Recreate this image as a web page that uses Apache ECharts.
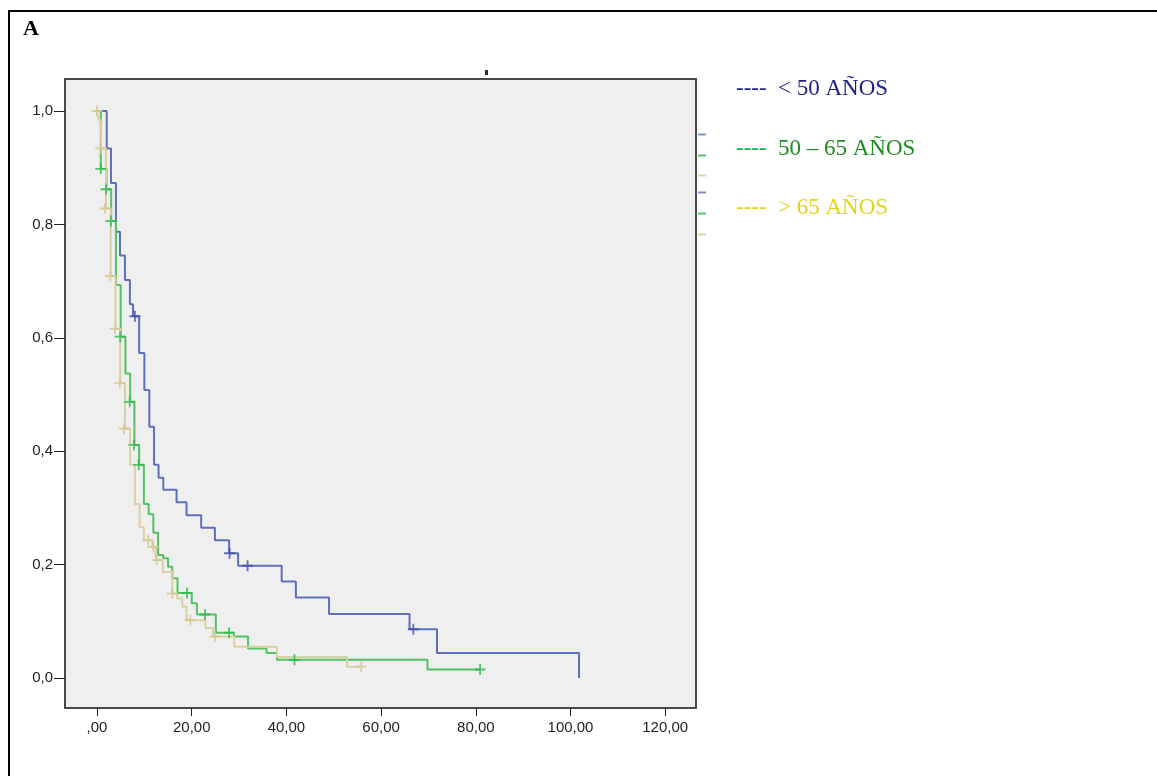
<!DOCTYPE html>
<html>
<head>
<meta charset="utf-8">
<title>Supervivencia por grupo de edad</title>
<script src="https://cdn.jsdelivr.net/npm/echarts@6/dist/echarts.min.js"></script>
<style>
  html, body { margin: 0; padding: 0; background: #ffffff; }
  #chart { width: 1157px; height: 776px; }
</style>
</head>
<body>
<div id="chart"></div>
<script>
// Kaplan-Meier step curves: event times (months) and survival proportion after each step
const groupNames = ['< 50 AÑOS', '50 – 65 AÑOS', '> 65 AÑOS'];

const youngTimes = [0, 2.05, 2.95, 4.0, 4.85, 5.9, 6.95, 7.6, 8.9, 10.0, 11.05, 12.05, 13.0, 14.0, 16.8, 18.9, 22.0, 24.9, 27.9, 29.8, 39.0, 42.0, 49.0, 66.0, 71.8, 101.8];
const youngSurv  = [1, 0.934, 0.873, 0.787, 0.745, 0.702, 0.659, 0.638, 0.573, 0.508, 0.443, 0.376, 0.353, 0.332, 0.310, 0.287, 0.265, 0.243, 0.220, 0.198, 0.170, 0.142, 0.113, 0.086, 0.044, 0];
const youngCensTimes = [8.0, 28.0, 31.8, 66.8];
const youngCensSurv  = [0.638, 0.220, 0.198, 0.086];

const midTimes = [0, 0.8, 2.0, 3.0, 4.0, 5.0, 6.0, 7.0, 7.9, 8.9, 9.9, 10.9, 11.9, 12.9, 14.0, 15.0, 15.9, 17.0, 20.0, 21.1, 25.1, 28.9, 31.9, 35.8, 38.0, 69.8, 80.9];
const midSurv  = [1, 0.898, 0.862, 0.806, 0.693, 0.602, 0.537, 0.487, 0.411, 0.376, 0.307, 0.289, 0.256, 0.217, 0.211, 0.196, 0.176, 0.150, 0.132, 0.112, 0.080, 0.073, 0.052, 0.044, 0.032, 0.015, 0.015];
const midCensTimes = [0.8, 1.9, 2.95, 4.9, 6.9, 7.8, 8.8, 19.0, 22.8, 27.9, 41.7, 80.9];
const midCensSurv  = [0.898, 0.862, 0.806, 0.602, 0.487, 0.411, 0.376, 0.150, 0.112, 0.080, 0.032, 0.015];

const oldTimes = [0, 0.3, 0.8, 1.9, 2.9, 3.9, 4.9, 5.9, 7.0, 8.0, 9.0, 9.9, 11.7, 12.4, 13.9, 15.9, 16.9, 18.0, 18.9, 22.9, 24.5, 29.0, 38.0, 52.8, 55.8];
const oldSurv  = [1, 0.984, 0.934, 0.828, 0.709, 0.616, 0.520, 0.440, 0.376, 0.307, 0.266, 0.243, 0.231, 0.208, 0.187, 0.149, 0.140, 0.126, 0.102, 0.088, 0.073, 0.055, 0.037, 0.020, 0.020];
const oldCensTimes = [0, 0.8, 1.7, 2.8, 3.8, 4.8, 5.7, 10.8, 11.9, 12.6, 15.9, 19.7, 24.9, 55.8];
const oldCensSurv  = [1, 0.934, 0.828, 0.709, 0.616, 0.520, 0.440, 0.243, 0.231, 0.208, 0.149, 0.102, 0.073, 0.020];

const xTicks = [0, 20, 40, 60, 80, 100, 120];
const yTicks = [0, 0.2, 0.4, 0.6, 0.8, 1.0];

const pair = (xs, ys) => xs.map((x, i) => [x, ys[i]]);

// "+" marker for censored observations
const plusPath = 'path://M4.6,0H6.4V4.6H11V6.4H6.4V11H4.6V6.4H0V4.6H4.6Z';

const lineColors = ['#5f70bb', '#55c165', '#d9d1a2'];
const markColors = ['#3d50ae', '#2eb84a', '#d2c890'];

function stepSeries(name, xs, ys, idx) {
  return {
    name: name, type: 'line', step: 'end', data: pair(xs, ys),
    showSymbol: false, symbol: 'none',
    lineStyle: { color: lineColors[idx], width: 2 },
    z: 2 + idx
  };
}
function censorSeries(name, xs, ys, idx) {
  return {
    name: name, type: 'scatter', data: pair(xs, ys),
    symbol: plusPath, symbolSize: 11,
    itemStyle: { color: markColors[idx] },
    z: 5 + idx
  };
}

const fmtX = v => (v === 0 ? ',00' : v + ',00');
const fmtY = v => v.toFixed(1).replace('.', ',');

const legendFont = { fontFamily: 'Liberation Serif', fontSize: 23 };
function legendRow(label, top, dashColor, textColor) {
  return { type: 'text', left: 736, top: top, silent: true,
    style: { text: '{d|----}{t|' + label + '}',
      rich: { d: Object.assign({ fill: dashColor, width: 42 }, legendFont),
              t: Object.assign({ fill: textColor }, legendFont) } } };
}

const chart = echarts.init(document.getElementById('chart'), null, { renderer: 'canvas' });

chart.setOption({
  animation: false,
  backgroundColor: '#ffffff',
  grid: {
    left: 65, top: 79, right: 461, bottom: 68,
    show: true, backgroundColor: '#efefef',
    borderColor: '#4a4a4a', borderWidth: 2
  },
  xAxis: {
    type: 'value', min: -6.76, max: 126.5,
    axisLine: { show: false, onZero: false },
    splitLine: { show: false },
    axisTick: { show: true, customValues: xTicks, length: 8, lineStyle: { color: '#222', width: 1 } },
    axisLabel: { show: true, customValues: xTicks, formatter: fmtX, margin: 12,
      fontFamily: 'Liberation Sans', fontSize: 15, color: '#1e1e1e' }
  },
  yAxis: {
    type: 'value', min: -0.0529, max: 1.0564,
    axisLine: { show: false, onZero: false },
    splitLine: { show: false },
    axisTick: { show: true, customValues: yTicks, length: 11, lineStyle: { color: '#222', width: 1 } },
    axisLabel: { show: true, customValues: yTicks, formatter: fmtY, margin: 12,
      fontFamily: 'Liberation Sans', fontSize: 15, color: '#1e1e1e' }
  },
  series: [
    stepSeries(groupNames[0], youngTimes, youngSurv, 0),
    stepSeries(groupNames[1], midTimes, midSurv, 1),
    stepSeries(groupNames[2], oldTimes, oldSurv, 2),
    censorSeries(groupNames[0] + ' censurado', youngCensTimes, youngCensSurv, 0),
    censorSeries(groupNames[1] + ' censurado', midCensTimes, midCensSurv, 1),
    censorSeries(groupNames[2] + ' censurado', oldCensTimes, oldCensSurv, 2)
  ],
  graphic: [
    // panel frame
    { type: 'polyline', silent: true,
      shape: { points: [[9, 776], [9, 11], [1157, 11]] },
      style: { stroke: '#000', lineWidth: 2, fill: null } },
    { type: 'text', left: 23, top: 18, silent: true,
      style: { text: 'A', fontFamily: 'Liberation Serif', fontWeight: 'bold', fontSize: 22, fill: '#000' } },
    // small mark above the plot
    { type: 'rect', silent: true, shape: { x: 485, y: 70, width: 3, height: 5 }, style: { fill: '#2a2a2a' } },
    // short colour keys at the right edge of the plot
    { type: 'line', silent: true, shape: { x1: 698, y1: 134.5, x2: 706, y2: 134.5 }, style: { stroke: '#8090c8', lineWidth: 2 } },
    { type: 'line', silent: true, shape: { x1: 698, y1: 155.5, x2: 706, y2: 155.5 }, style: { stroke: '#5ac86e', lineWidth: 2 } },
    { type: 'line', silent: true, shape: { x1: 698, y1: 175.5, x2: 706, y2: 175.5 }, style: { stroke: '#ddd5a8', lineWidth: 2 } },
    { type: 'line', silent: true, shape: { x1: 698, y1: 192.5, x2: 706, y2: 192.5 }, style: { stroke: '#8090c8', lineWidth: 2 } },
    { type: 'line', silent: true, shape: { x1: 698, y1: 213.5, x2: 706, y2: 213.5 }, style: { stroke: '#5ac86e', lineWidth: 2 } },
    { type: 'line', silent: true, shape: { x1: 698, y1: 234.5, x2: 706, y2: 234.5 }, style: { stroke: '#ddd5a8', lineWidth: 2 } },
    // legend
    legendRow(groupNames[0], 77, '#1a1f96', '#1a1f8c'),
    legendRow(groupNames[1], 137, '#14b050', '#1f8a1f'),
    legendRow(groupNames[2], 196, '#e3d21c', '#e3d21c')
  ]
});
</script>
</body>
</html>
